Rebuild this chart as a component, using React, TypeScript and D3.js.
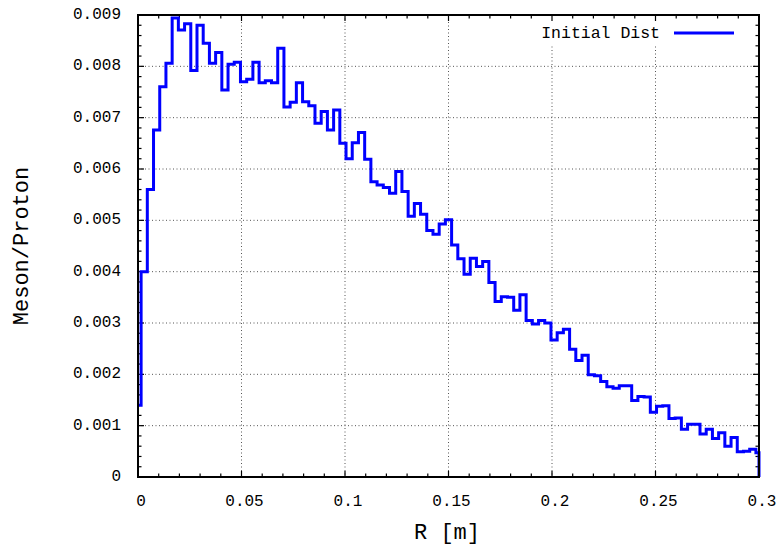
import React from "react";
import * as d3 from "d3";

// ---- data ----
const binStep = 0.003; // R spacing of the histogram points [m]
const mesonPerProton = [
  0.0014, 0.0040, 0.0056, 0.00676, 0.0076, 0.00806, 0.00894, 0.00871, 0.00883, 0.00792,
  0.0088, 0.00845, 0.00806, 0.00827, 0.00754, 0.00804, 0.00808, 0.0077, 0.00775, 0.00808,
  0.00768, 0.00772, 0.00768, 0.00835, 0.00721, 0.0073, 0.00768, 0.00731, 0.00723, 0.00689,
  0.00712, 0.00676, 0.00715, 0.0065, 0.0062, 0.00651, 0.00671, 0.00619, 0.00575, 0.00569,
  0.00564, 0.00553, 0.00595, 0.00556, 0.00508, 0.00533, 0.00512, 0.0048, 0.00473, 0.00493,
  0.00501, 0.00452, 0.00425, 0.00395, 0.00426, 0.0041, 0.0042, 0.00379, 0.00342, 0.00351,
  0.0035, 0.00325, 0.00355, 0.00305, 0.00298, 0.00305, 0.003, 0.00267, 0.00281, 0.00288,
  0.00249, 0.00227, 0.00237, 0.00199, 0.00197, 0.00186, 0.00176, 0.00173, 0.00178, 0.00178,
  0.00149, 0.00157, 0.00156, 0.00126, 0.00138, 0.00139, 0.00114, 0.00115, 0.00093, 0.00103,
  0.00103, 0.00084, 0.00093, 0.00075, 0.00086, 0.0006, 0.00077, 0.00049, 0.0005, 0.00054,
  0.00047,
];
const xTicks = [0, 0.05, 0.1, 0.15, 0.2, 0.25, 0.3];
const xTickLabels = ["0", "0.05", "0.1", "0.15", "0.2", "0.25", "0.3"];
const yTicks = [0, 0.001, 0.002, 0.003, 0.004, 0.005, 0.006, 0.007, 0.008, 0.009];
const yTickLabels = ["0", "0.001", "0.002", "0.003", "0.004", "0.005", "0.006", "0.007", "0.008", "0.009"];
const seriesName = "Initial Dist";
const xTitle = "R [m]";
const yTitle = "Meson/Proton";

const W = 784;
const H = 548;
const L = 138, Rr = 759, T = 15, B = 477;
const FONT = "'Liberation Mono', 'DejaVu Sans Mono', monospace";

export default function App() {
  const x = d3.scaleLinear().domain([0, 0.3]).range([L, Rr]);
  const y = d3.scaleLinear().domain([0, 0.009]).range([B, T]);

  const pts: [number, number][] = mesonPerProton.map((v, i) => [i * binStep, v]);
  const last = pts[pts.length - 1][0];
  pts.push([last, 0]);
  const line = d3
    .line<[number, number]>()
    .x((d) => x(d[0]))
    .y((d) => y(d[1]))
    .curve(d3.curveStep);

  const xMinor = d3.range(0, 31).map((k) => k * 0.01);
  const yMinor = d3.range(0, 46).map((k) => k * 0.0002);
  const majLen = 6, minLen = 3.5;

  return (
    <svg width={W} height={H} style={{ position: "absolute", left: 0, top: 0, background: "#fff" }}>
      <rect x={0} y={0} width={W} height={H} fill="#fff" />
      {/* grid */}
      <g stroke="#555" strokeWidth={1} strokeDasharray="1 2.5">
        {xTicks.slice(1, -1).map((t) => (
          <line key={"gx" + t} x1={x(t)} x2={x(t)} y1={T} y2={B} />
        ))}
        {yTicks.slice(1, -1).map((t) => (
          <line key={"gy" + t} x1={L} x2={Rr} y1={y(t)} y2={y(t)} />
        ))}
      </g>
      {/* key background */}
      <rect x={533} y={18} width={212} height={28} fill="#fff" />
      {/* ticks */}
      <g stroke="#000" strokeWidth={1.2}>
        {xMinor.map((t, i) => {
          const len = i % 5 === 0 ? majLen : minLen;
          return (
            <g key={"xt" + i}>
              <line x1={x(t)} x2={x(t)} y1={B} y2={B - len} />
              <line x1={x(t)} x2={x(t)} y1={T} y2={T + len} />
            </g>
          );
        })}
        {yMinor.map((t, i) => {
          const len = i % 5 === 0 ? majLen : minLen;
          return (
            <g key={"yt" + i}>
              <line x1={L} x2={L + len} y1={y(t)} y2={y(t)} />
              <line x1={Rr} x2={Rr - len} y1={y(t)} y2={y(t)} />
            </g>
          );
        })}
      </g>
      {/* data */}
      <path d={line(pts) || ""} fill="none" stroke="#0000ff" strokeWidth={3} strokeLinejoin="miter" />
      {/* frame */}
      <rect x={L} y={T} width={Rr - L} height={B - T} fill="none" stroke="#000" strokeWidth={2} />
      {/* tick labels */}
      <g fontFamily={FONT} fontSize={16} fill="#000">
        {xTicks.map((t, i) => (
          <text key={"xl" + i} x={x(t) + 3} y={502} textAnchor="middle" dominantBaseline="central">
            {xTickLabels[i]}
          </text>
        ))}
        {yTicks.map((t, i) => (
          <text key={"yl" + i} x={121} y={y(t)} textAnchor="end" dominantBaseline="central">
            {yTickLabels[i]}
          </text>
        ))}
      </g>
      {/* titles */}
      <text x={447} y={533} fontFamily={FONT} fontSize={22} textAnchor="middle" dominantBaseline="central">
        {xTitle}
      </text>
      <text
        transform={`translate(22,246) rotate(-90)`}
        fontFamily={FONT}
        fontSize={22}
        textAnchor="middle"
        dominantBaseline="central"
      >
        {yTitle}
      </text>
      {/* legend */}
      <text x={660} y={33} fontFamily={FONT} fontSize={16.5} textAnchor="end" dominantBaseline="central">
        {seriesName}
      </text>
      <line x1={674} x2={734} y1={33} y2={33} stroke="#0000ff" strokeWidth={3} />
    </svg>
  );
}
